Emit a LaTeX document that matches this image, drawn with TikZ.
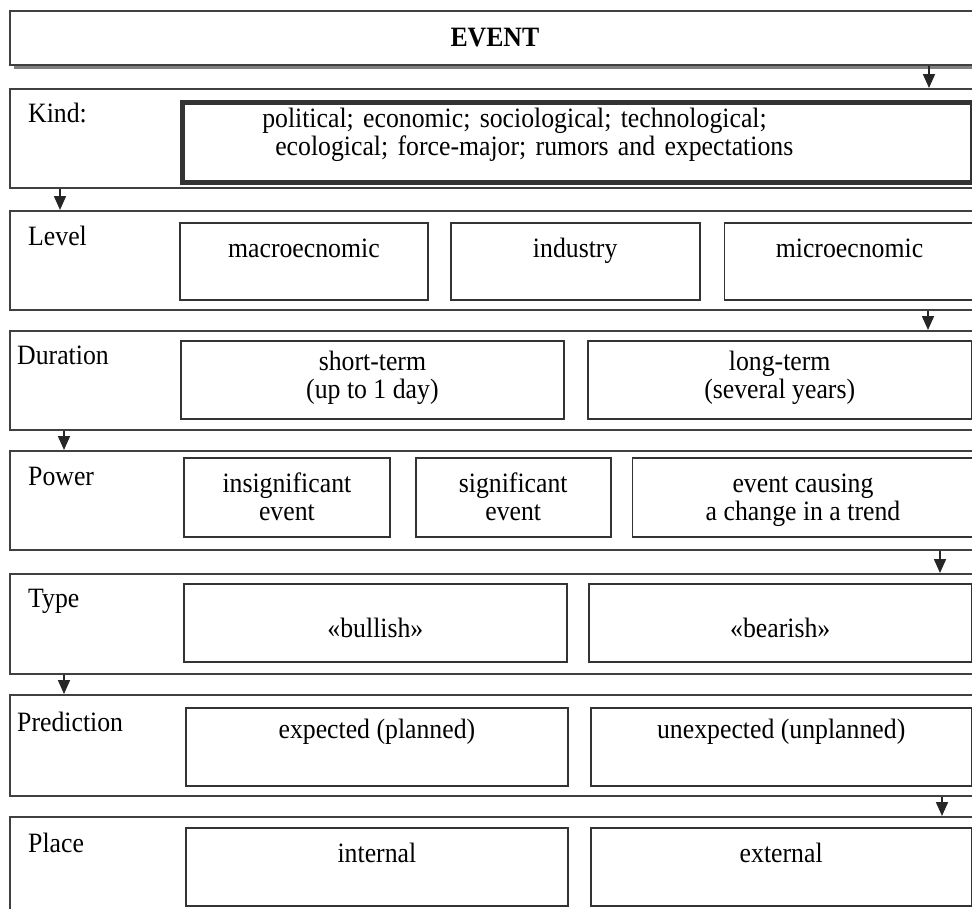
\documentclass[tikz,border=0pt]{standalone}
\usepackage{fontspec}
\setmainfont[FakeStretch=0.92]{Liberation Serif}
\usetikzlibrary{positioning,arrows.meta,shadows}

\tikzset{
  estilo eventos/.style={
      x=1pt, y=-1pt,
      every node/.style={font={\fontsize{28}{28}\selectfont}},
      franja/.style={draw=black!75, line width=1.8pt, anchor=north west, minimum width=970pt, inner sep=0pt},
      caja/.style={draw=black!80, line width=1.8pt, align=center, inner sep=0pt},
      etiqueta/.style={anchor=base west, inner sep=0pt},
      flecha/.style={-{Triangle[length=14pt,width=12pt]}, line width=1.8pt, black!85},
    },
}

\begin{document}
\begin{tikzpicture}[estilo eventos]
  \useasboundingbox (0,0) rectangle (972,908);

  % franjas
  \node[franja, minimum height=54pt, fill=white, font={\fontsize{28}{28}\selectfont\bfseries},
        drop shadow={shadow xshift=4pt, shadow yshift=-4.5pt, fill=black!50, opacity=1}] (event) at (9,10) {EVENT};
  \node[franja, minimum height=99pt] (kind) at (9,88) {};
  \node[franja, minimum height=99pt] (level) at (9,210) {};
  \node[franja, minimum height=99pt] (duration) at (9,330) {};
  \node[franja, minimum height=99pt] (power) at (9,450) {};
  \node[franja, minimum height=100pt] (type) at (9,573) {};
  \node[franja, minimum height=101pt] (prediction) at (9,694) {};
  \node[franja, minimum height=120pt] (place) at (9,816) {};

  % etiquetas
  \node[etiqueta] (l-kind) at (28,122) {Kind:};
  \node[etiqueta] (l-level) at (28,245) {Level};
  \node[etiqueta] (l-duration) at (17,364) {Duration};
  \node[etiqueta] (l-power) at (28,485) {Power};
  \node[etiqueta] (l-type) at (28,607) {Type};
  \node[etiqueta] (l-prediction) at (17,731) {Prediction};
  \node[etiqueta] (l-place) at (28,852) {Place};

  % cajas
  \node[caja, line width=4.5pt, anchor=north west, align=left, text width=630pt, inner xsep=80pt,
        text height=25pt, text depth=55pt] (kinds) at (180,100)
        {political; economic; sociological; technological;\\\hspace*{13pt}ecological; force-major; rumors and expectations};

  \node[caja, anchor=north west, minimum width=248pt, text height=35pt, text depth=42pt] (macro) at (179,222) {macroecnomic};
  \node[caja, right=21pt of macro, minimum width=249pt, text height=35pt, text depth=42pt] (industry) {industry};
  \node[caja, right=23pt of industry, minimum width=250pt, text height=35pt, text depth=42pt] (micro) {microecnomic};

  \node[caja, anchor=north west, minimum width=383pt, text height=58pt, text depth=20pt] (short) at (180,340) {short-term\\(up to 1 day)};
  \node[caja, right=22pt of short, minimum width=384pt, text height=58pt, text depth=20pt] (long) {long-term\\(several years)};

  \node[caja, anchor=north west, minimum width=206pt, text height=63pt, text depth=16pt] (insig) at (183,457) {insignificant\\event};
  \node[caja, right=24pt of insig, minimum width=195pt, text height=63pt, text depth=16pt] (sig) {significant\\event};
  \node[caja, right=20pt of sig, minimum width=341pt, text height=63pt, text depth=16pt] (trend) {event causing\\a change in a trend};

  \node[caja, anchor=north west, minimum width=383pt, text height=54pt, text depth=24pt] (bull) at (183,583) {«bullish»};
  \node[caja, right=20pt of bull, minimum width=383pt, text height=54pt, text depth=24pt] (bear) {«bearish»};

  \node[caja, anchor=north west, minimum width=382pt, text height=31pt, text depth=47pt] (expected) at (185,707) {expected (planned)};
  \node[caja, right=21pt of expected, minimum width=381pt, text height=31pt, text depth=47pt] (unexpected) {unexpected (unplanned)};

  \node[caja, anchor=north west, minimum width=382pt, text height=35pt, text depth=43pt] (internal) at (185,827) {internal};
  \node[caja, right=21pt of internal, minimum width=381pt, text height=35pt, text depth=43pt] (external) {external};

  % flechas
  \draw[flecha] (event.south -| 929,0) -- (kind.north -| 929,0);
  \draw[flecha] (kind.south -| 60,0) -- (level.north -| 60,0);
  \draw[flecha] (level.south -| 928,0) -- (duration.north -| 928,0);
  \draw[flecha] (duration.south -| 64,0) -- (power.north -| 64,0);
  \draw[flecha] (power.south -| 940,0) -- (type.north -| 940,0);
  \draw[flecha] (type.south -| 64,0) -- (prediction.north -| 64,0);
  \draw[flecha] (prediction.south -| 942,0) -- (place.north -| 942,0);
\end{tikzpicture}
\end{document}
